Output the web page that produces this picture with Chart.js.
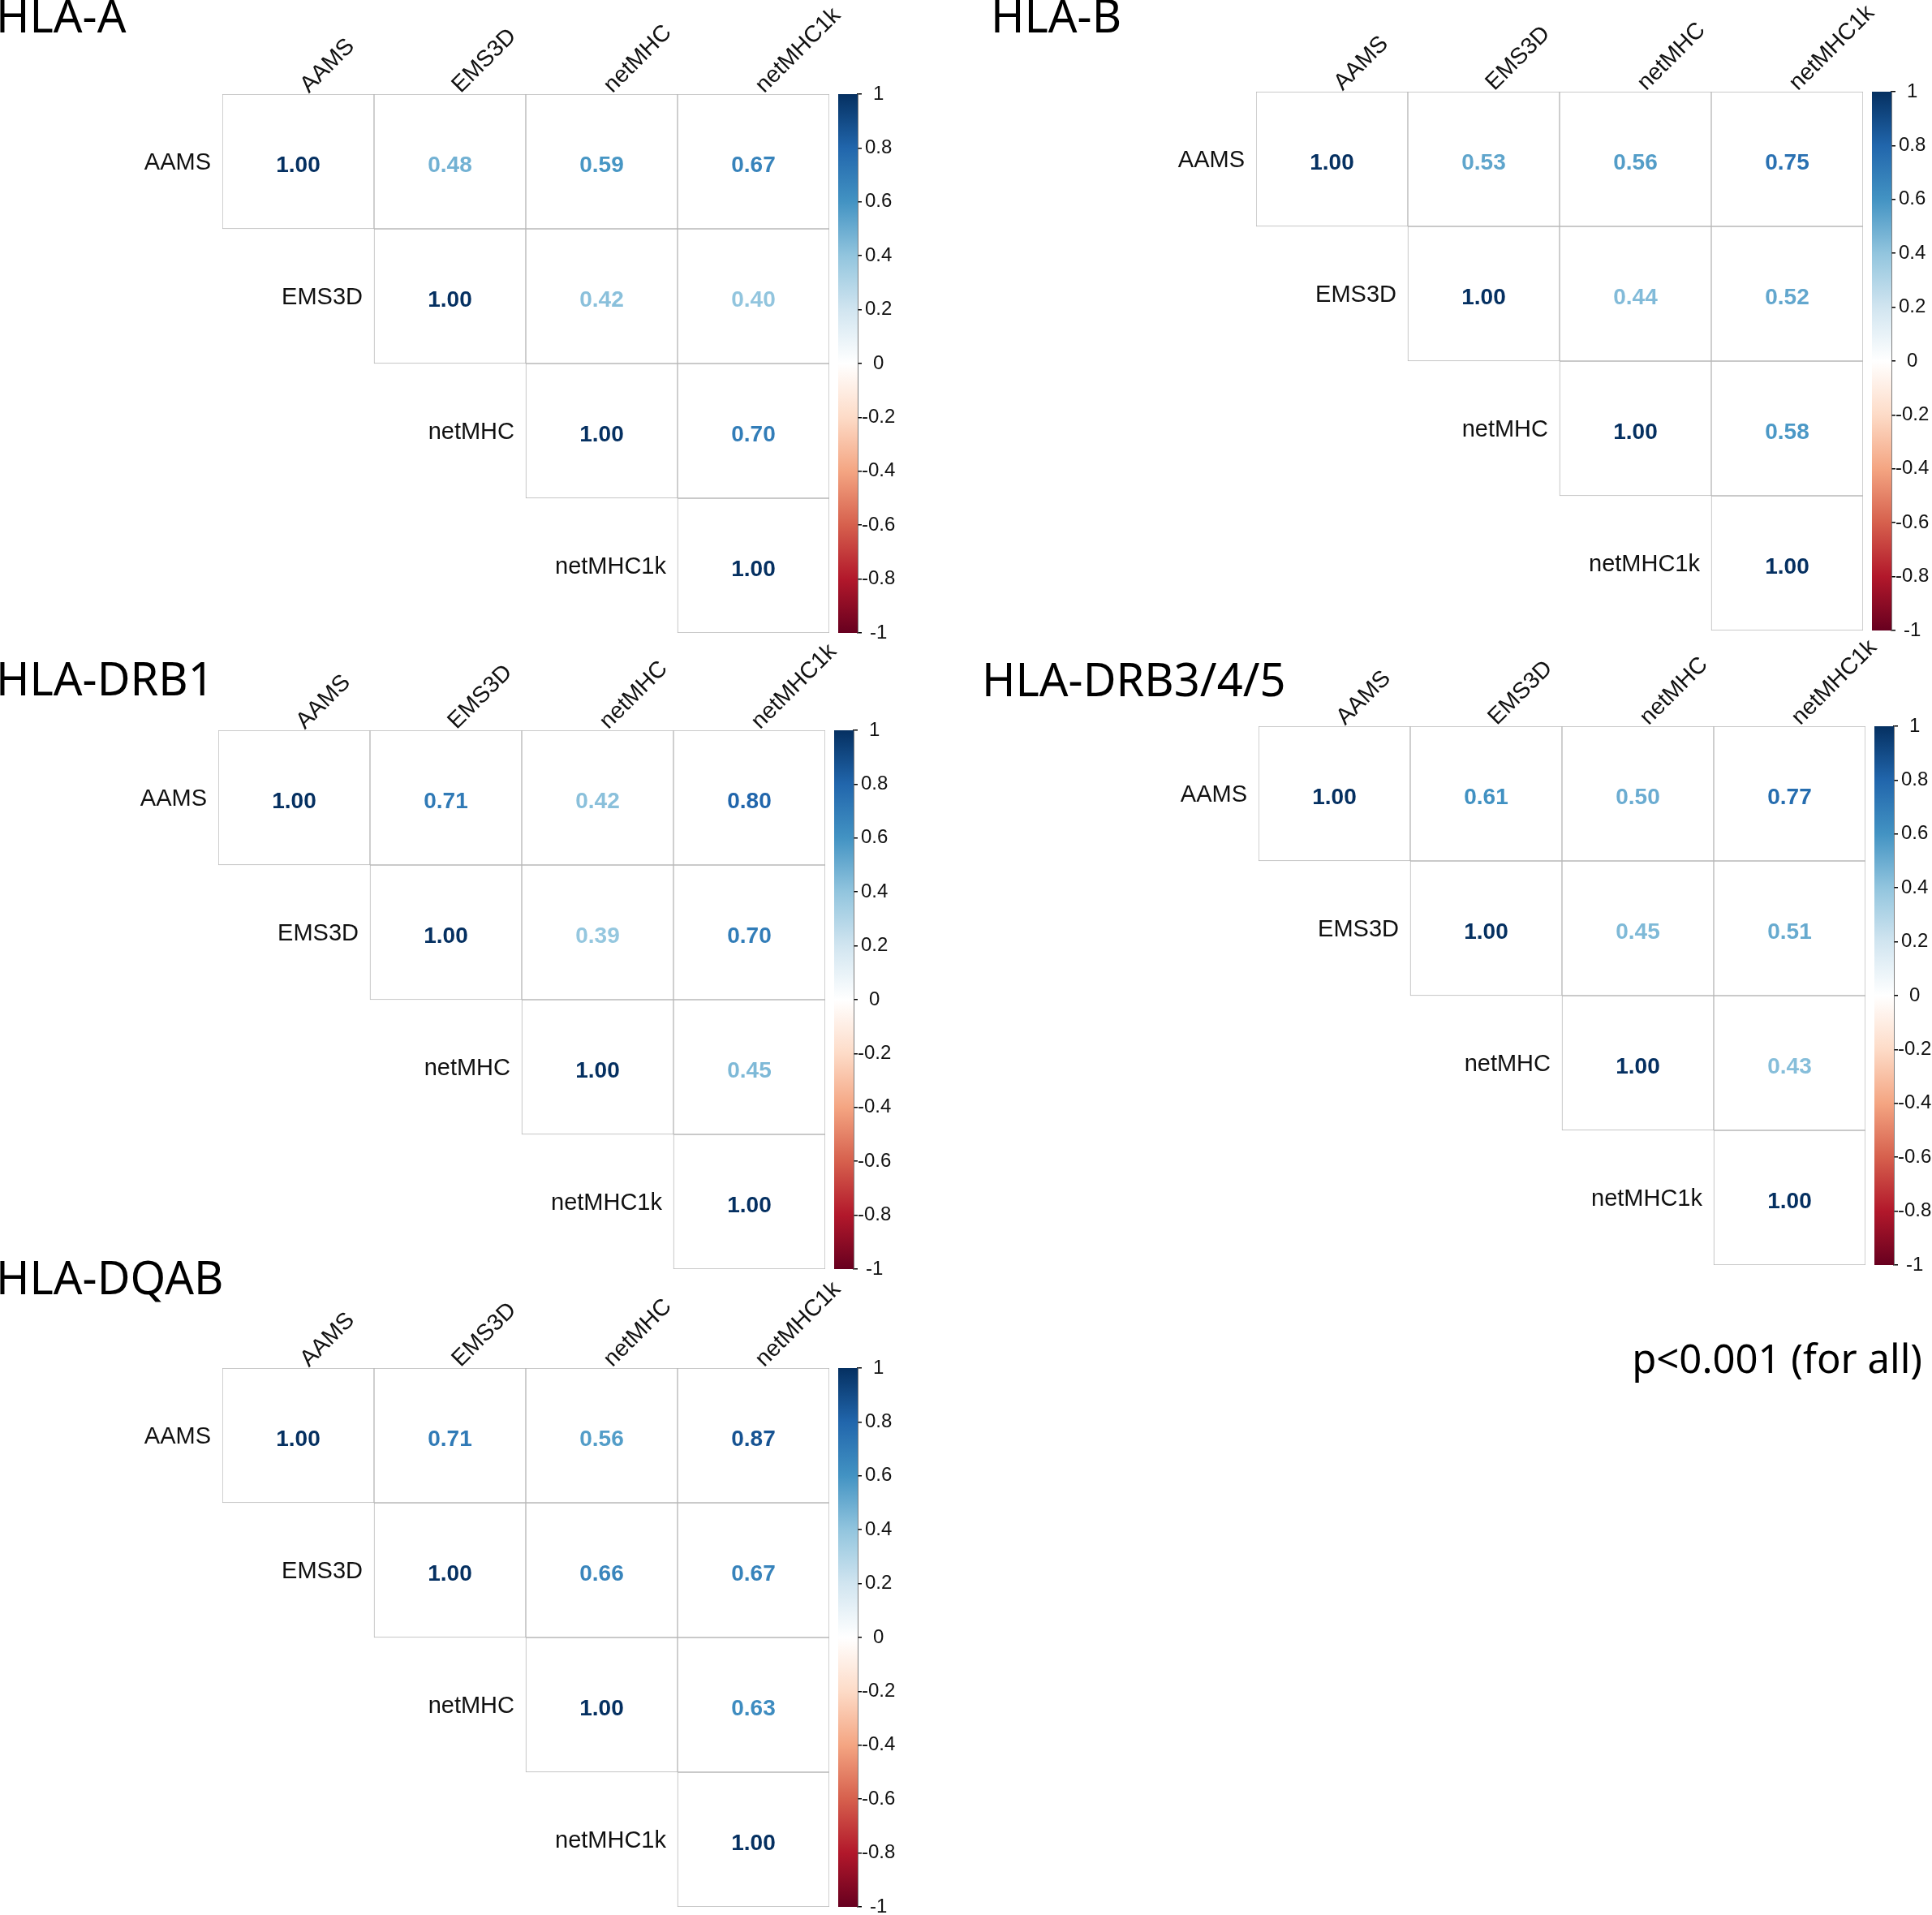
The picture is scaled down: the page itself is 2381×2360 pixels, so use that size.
<!DOCTYPE html>
<html lang="en">
<head>
<meta charset="UTF-8" />
<title>Correlation matrices</title>
<style>
  body { margin: 0; background: #fff; overflow: hidden; }
  #page { position: relative; width: 2381px; height: 2360px; }
  canvas { position: absolute; }
  .ttl { position: absolute; font-family: "Noto Sans", sans-serif; line-height: 1; color: #000; white-space: nowrap; }
</style>
</head>
<body>
<div id="page"></div>
<script src="https://cdn.jsdelivr.net/npm/chart.js"></script>
<script>
const methods = ["AAMS", "EMS3D", "netMHC", "netMHC1k"];

// upper triangle, one row per method (starts at the diagonal)
const hlaA = [[1.00, 0.48, 0.59, 0.67], [1.00, 0.42, 0.40], [1.00, 0.70], [1.00]];
const hlaB = [[1.00, 0.53, 0.56, 0.75], [1.00, 0.44, 0.52], [1.00, 0.58], [1.00]];
const hlaDRB1 = [[1.00, 0.71, 0.42, 0.80], [1.00, 0.39, 0.70], [1.00, 0.45], [1.00]];
const hlaDRB345 = [[1.00, 0.61, 0.50, 0.77], [1.00, 0.45, 0.51], [1.00, 0.43], [1.00]];
const hlaDQAB = [[1.00, 0.71, 0.56, 0.87], [1.00, 0.66, 0.67], [1.00, 0.63], [1.00]];

const legendTicks = [-1, -0.8, -0.6, -0.4, -0.2, 0, 0.2, 0.4, 0.6, 0.8, 1];
const rdbu = ["#67001F", "#B2182B", "#D6604D", "#F4A582", "#FDDBC7", "#FFFFFF",
              "#D1E5F0", "#92C5DE", "#4393C3", "#2166AC", "#053061"];

const note = "p<0.001 (for all)";

const panels = [
  { title: "HLA-A", corr: hlaA, x: 274, y: 116, tx: -5, ty: 40 },
  { title: "HLA-B", corr: hlaB, x: 1548, y: 113, tx: 1221, ty: 40 },
  { title: "HLA-DRB1", corr: hlaDRB1, x: 269, y: 900, tx: -5, ty: 857 },
  { title: "HLA-DRB3/4/5", corr: hlaDRB345, x: 1551, y: 895, tx: 1210, ty: 858 },
  { title: "HLA-DQAB", corr: hlaDQAB, x: 274, y: 1686, tx: -5, ty: 1595 },
];

const page = document.getElementById("page");
const FONT = '"Liberation Sans", Arial, sans-serif';
const GRID_W = 748, GRID_H = 664;

function hexToRgb(h) {
  return [1, 3, 5].map(k => parseInt(h.slice(k, k + 2), 16));
}

function colorFor(v) {
  const t = (v + 1) / 2 * (rdbu.length - 1);
  const i = Math.min(Math.floor(t), rdbu.length - 2);
  const f = t - i;
  const a = hexToRgb(rdbu[i]), b = hexToRgb(rdbu[i + 1]);
  const c = a.map((x, k) => Math.round(x + (b[k] - x) * f));
  return `rgb(${c[0]},${c[1]},${c[2]})`;
}

function addCanvas(left, top, w, h) {
  const c = document.createElement("canvas");
  c.width = w;
  c.height = h;
  c.style.left = left + "px";
  c.style.top = top + "px";
  page.appendChild(c);
  return c;
}

function addText(txt, size, left, baseline) {
  const d = document.createElement("div");
  d.className = "ttl";
  d.style.fontSize = size + "px";
  d.style.left = left + "px";
  d.style.top = (baseline - 0.888 * size) + "px";
  d.textContent = txt;
  page.appendChild(d);
  return d;
}

function drawMatrix(p) {
  const padL = 250, padT = 130, padR = 60, padB = 10, axisH = 125;
  const cv = addCanvas(p.x - padL, p.y - padT, padL + GRID_W + padR, padT + GRID_H + padB);

  const datasets = p.corr.map((row, i) => ({
    data: methods.map((m, j) => (j >= i ? [i, i + 1] : null)),
    backgroundColor: "#fff",
    borderColor: "#b9b9b9",
    borderWidth: 1,
    borderSkipped: false,
    barPercentage: 1,
    categoryPercentage: 1,
    grouped: false,
  }));

  const cellText = {
    id: "cellText",
    afterDatasetsDraw(chart) {
      const ctx = chart.ctx;
      ctx.save();
      chart.data.datasets.forEach((ds, i) => {
        const meta = chart.getDatasetMeta(i);
        meta.data.forEach((bar, j) => {
          if (j < i) return;
          const { x, y, base, width } = bar.getProps(["x", "y", "base", "width"], true);
          const cy = (y + base) / 2;
          const v = p.corr[i][j - i];
          ctx.font = "bold 28px " + FONT;
          ctx.fillStyle = colorFor(v);
          ctx.textAlign = "center";
          ctx.textBaseline = "middle";
          ctx.fillText(v.toFixed(2), x, cy + 5);
          if (j === i) {
            ctx.font = "29px " + FONT;
            ctx.fillStyle = "#111";
            ctx.textAlign = "right";
            ctx.fillText(methods[i], x - width / 2 - 14, cy + 2);
          }
        });
      });
      ctx.restore();
    },
  };

  new Chart(cv, {
    type: "bar",
    data: { labels: methods, datasets },
    options: {
      responsive: false,
      animation: false,
      layout: { padding: { left: padL, right: padR, top: padT - axisH, bottom: padB } },
      plugins: { legend: { display: false }, tooltip: { enabled: false } },
      scales: {
        x: {
          position: "top",
          grid: { display: false },
          border: { display: false },
          ticks: {
            minRotation: 45,
            maxRotation: 45,
            padding: -14,
            labelOffset: 32,
            color: "#111",
            font: { family: FONT, size: 28.5 },
          },
          afterFit: (s) => { s.height = axisH; },
        },
        y: { display: false, min: 0, max: 4, reverse: true },
      },
    },
    plugins: [cellText],
  });
}

function drawLegend(p) {
  const padL = 10, padT = 20, padB = 20, barW = 24, axisW = 60;
  const left = p.x + GRID_W + 11 - padL;
  const cv = addCanvas(left, p.y - padT, padL + barW + axisW, padT + GRID_H + padB);

  new Chart(cv, {
    type: "bar",
    data: {
      labels: [""],
      datasets: [{
        data: [[-1, 1]],
        borderWidth: 0,
        barPercentage: 1,
        categoryPercentage: 1,
        backgroundColor: (c) => {
          const a = c.chart.chartArea;
          if (!a) return "#fff";
          const g = c.chart.ctx.createLinearGradient(0, a.bottom, 0, a.top);
          rdbu.forEach((col, k) => g.addColorStop(k / (rdbu.length - 1), col));
          return g;
        },
      }],
    },
    options: {
      responsive: false,
      animation: false,
      layout: { padding: { left: padL, right: 0, top: padT, bottom: padB } },
      plugins: { legend: { display: false }, tooltip: { enabled: false } },
      scales: {
        x: { display: false },
        y: {
          position: "right",
          min: -1,
          max: 1,
          afterBuildTicks: (s) => { s.ticks = legendTicks.map(v => ({ value: v })); },
          afterFit: (s) => { s.width = axisW; },
          ticks: {
            callback: (v) => String(Number(v.toFixed(1))),
            color: "#111",
            padding: 0,
            crossAlign: "center",
            font: { family: FONT, size: 24 },
          },
          grid: { drawOnChartArea: false, drawTicks: true, tickLength: 5, color: "#000", lineWidth: 1.5 },
          border: { display: true, color: "#000", width: 1.5 },
        },
      },
    },
  });
}

panels.forEach((p) => {
  addText(p.title, 56, p.tx, p.ty);
  drawMatrix(p);
  drawLegend(p);
});

const pv = addText(note, 49, 0, 1693);
pv.style.left = "auto";
pv.style.right = "12px";
</script>
</body>
</html>
